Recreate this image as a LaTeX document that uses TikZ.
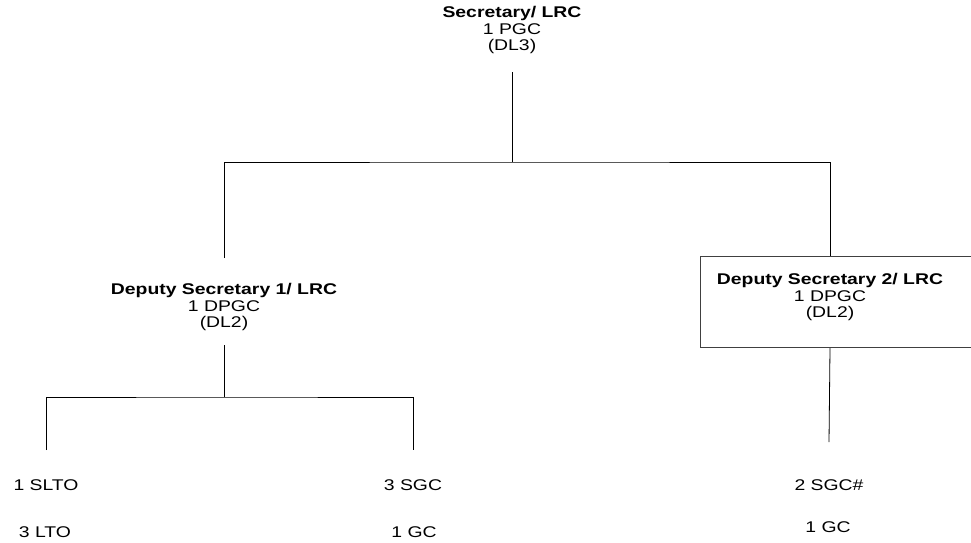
\documentclass[tikz,border=0pt]{standalone}
\usepackage{fontspec}
\setmainfont[FakeStretch=1.25]{Liberation Sans}
\usetikzlibrary{positioning}
\begin{document}
\begin{tikzpicture}[x=1pt,y=-1pt,
  post/.style={align=center,font=\fontsize{15.5}{16.8}\selectfont,inner sep=0pt},
  staff/.style={font=\fontsize{15.5}{16.8}\selectfont,inner sep=0pt},
  frame/.style={draw=black!75,line width=1.2pt,minimum width=280,minimum height=91,anchor=north west,inner sep=0pt},
  every path/.style={line width=0.8pt}]
\useasboundingbox (0,0) rectangle (971,543);
% head of the office
\node[post] (sec) at (512,30) {\textbf{Secretary/ LRC}\\1 PGC\\(DL3)};
\coordinate (secfoot) at (512,72);
\coordinate (bus) at (512,162);
% deputies
\node[post] (dep1) at (224,307) {\textbf{Deputy Secretary 1/ LRC}\\1 DPGC\\(DL2)};
\coordinate (dep1top) at (224,258);
\coordinate (dep1foot) at (224,345);
\node[frame] (dep2box) at (700,256) {};
\node[post] (dep2) at (830,297) {\textbf{Deputy Secretary 2/ LRC}\\1 DPGC\\(DL2)};
\draw (secfoot) -- (bus);
\draw (dep1top) |- (bus) -| (dep2box.north -| dep2);
% staff under deputy 1
\coordinate (sub) at (224,397);
\coordinate (sltotop) at (46,450);
\coordinate (sgctop) at (413,450);
\draw (dep1foot) -- (sub);
\draw (sltotop) |- (sub) -| (sgctop);
\node[staff] (slto) at (46,485) {1 SLTO};
\node[staff] (lto) at (45,532) {3 LTO};
\node[staff] (sgc) at (413,485) {3 SGC};
\node[staff] (gc) at (414,532) {1 GC};
% staff under deputy 2
\coordinate (sgctwotop) at (829,442);
\draw (dep2box.south -| dep2) -- (sgctwotop);
\node[staff] (sgctwo) at (829,485) {2 SGC\#};
\node[staff] (gctwo) at (828,527) {1 GC};
\end{tikzpicture}
\end{document}
